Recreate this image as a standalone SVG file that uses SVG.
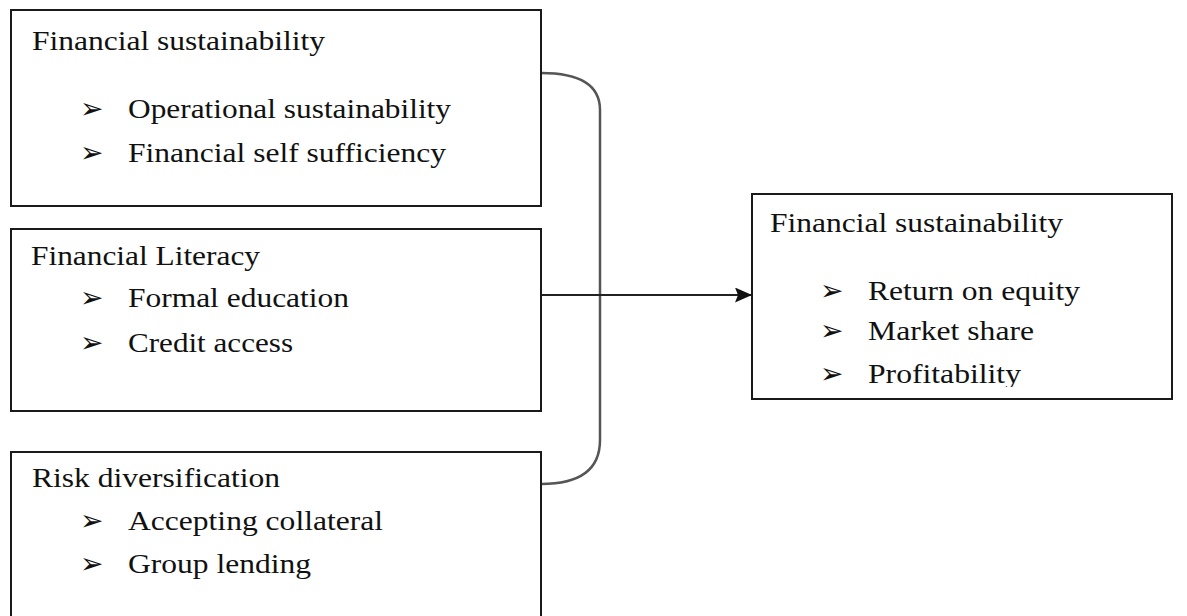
<svg xmlns="http://www.w3.org/2000/svg" width="1187" height="616" viewBox="0 0 1187 616">
  <style>
    .box { fill: #ffffff; stroke: #1a1a1a; stroke-width: 2; }
    .t { font-family: "Liberation Serif", "Times New Roman", serif; font-size: 28px; fill: #111111; }
    .b { font-family: "DejaVu Sans", sans-serif; font-size: 28px; fill: #111111; }
    .brace { fill: none; stroke: #555555; stroke-width: 2.5; }
    .link { fill: none; stroke: #222222; stroke-width: 2; }
  </style>
  <defs>
    <marker id="arrow" markerWidth="17" markerHeight="15" refX="16" refY="7.5" orient="auto" markerUnits="userSpaceOnUse" viewBox="0 0 17 15">
      <path d="M0,0 L17,7.5 L0,15 L3,7.5 Z" fill="#111111"/>
    </marker>
    <clipPath id="clipOut">
      <rect x="752" y="194" width="420" height="193"/>
    </clipPath>
  </defs>
  <rect width="1187" height="616" fill="#ffffff"/>

  <g id="connectors">
    <path class="brace" d="M541,73 C580,73 600,85 600,110 L600,440 C600,470 580,484 541,484"/>
    <path class="link" d="M541,295 L751,295" marker-end="url(#arrow)"/>
  </g>

  <g id="node-sustainability">
    <rect class="box" x="11" y="10" width="530" height="196"/>
    <text class="t" x="32" y="50" textLength="293" lengthAdjust="spacingAndGlyphs">Financial sustainability</text>
    <text class="b" x="80" y="118">➢</text>
    <text class="t" x="128" y="118" textLength="323" lengthAdjust="spacingAndGlyphs">Operational sustainability</text>
    <text class="b" x="80" y="162">➢</text>
    <text class="t" x="128" y="162" textLength="318" lengthAdjust="spacingAndGlyphs">Financial self sufficiency</text>
  </g>

  <g id="node-literacy">
    <rect class="box" x="11" y="229" width="530" height="182"/>
    <text class="t" x="31" y="265" textLength="229" lengthAdjust="spacingAndGlyphs">Financial Literacy</text>
    <text class="b" x="80" y="307">➢</text>
    <text class="t" x="128" y="307" textLength="221" lengthAdjust="spacingAndGlyphs">Formal education</text>
    <text class="b" x="80" y="352">➢</text>
    <text class="t" x="128" y="352" textLength="165" lengthAdjust="spacingAndGlyphs">Credit access</text>
  </g>

  <g id="node-risk">
    <rect class="box" x="11" y="452" width="530" height="175"/>
    <text class="t" x="32" y="487" textLength="248" lengthAdjust="spacingAndGlyphs">Risk diversification</text>
    <text class="b" x="80" y="530">➢</text>
    <text class="t" x="128" y="530" textLength="255" lengthAdjust="spacingAndGlyphs">Accepting collateral</text>
    <text class="b" x="80" y="573">➢</text>
    <text class="t" x="128" y="573" textLength="183" lengthAdjust="spacingAndGlyphs">Group lending</text>
  </g>

  <g id="node-outcome">
    <rect class="box" x="752" y="194" width="420" height="205"/>
    <text class="t" x="770" y="232" textLength="293" lengthAdjust="spacingAndGlyphs">Financial sustainability</text>
    <text class="b" x="820" y="300">➢</text>
    <text class="t" x="868" y="300" textLength="212" lengthAdjust="spacingAndGlyphs">Return on equity</text>
    <text class="b" x="820" y="340">➢</text>
    <text class="t" x="868" y="340" textLength="166" lengthAdjust="spacingAndGlyphs">Market share</text>
    <text class="b" x="820" y="383">➢</text>
    <text class="t" x="868" y="383" textLength="153" lengthAdjust="spacingAndGlyphs" clip-path="url(#clipOut)">Profitability</text>
  </g>
</svg>
